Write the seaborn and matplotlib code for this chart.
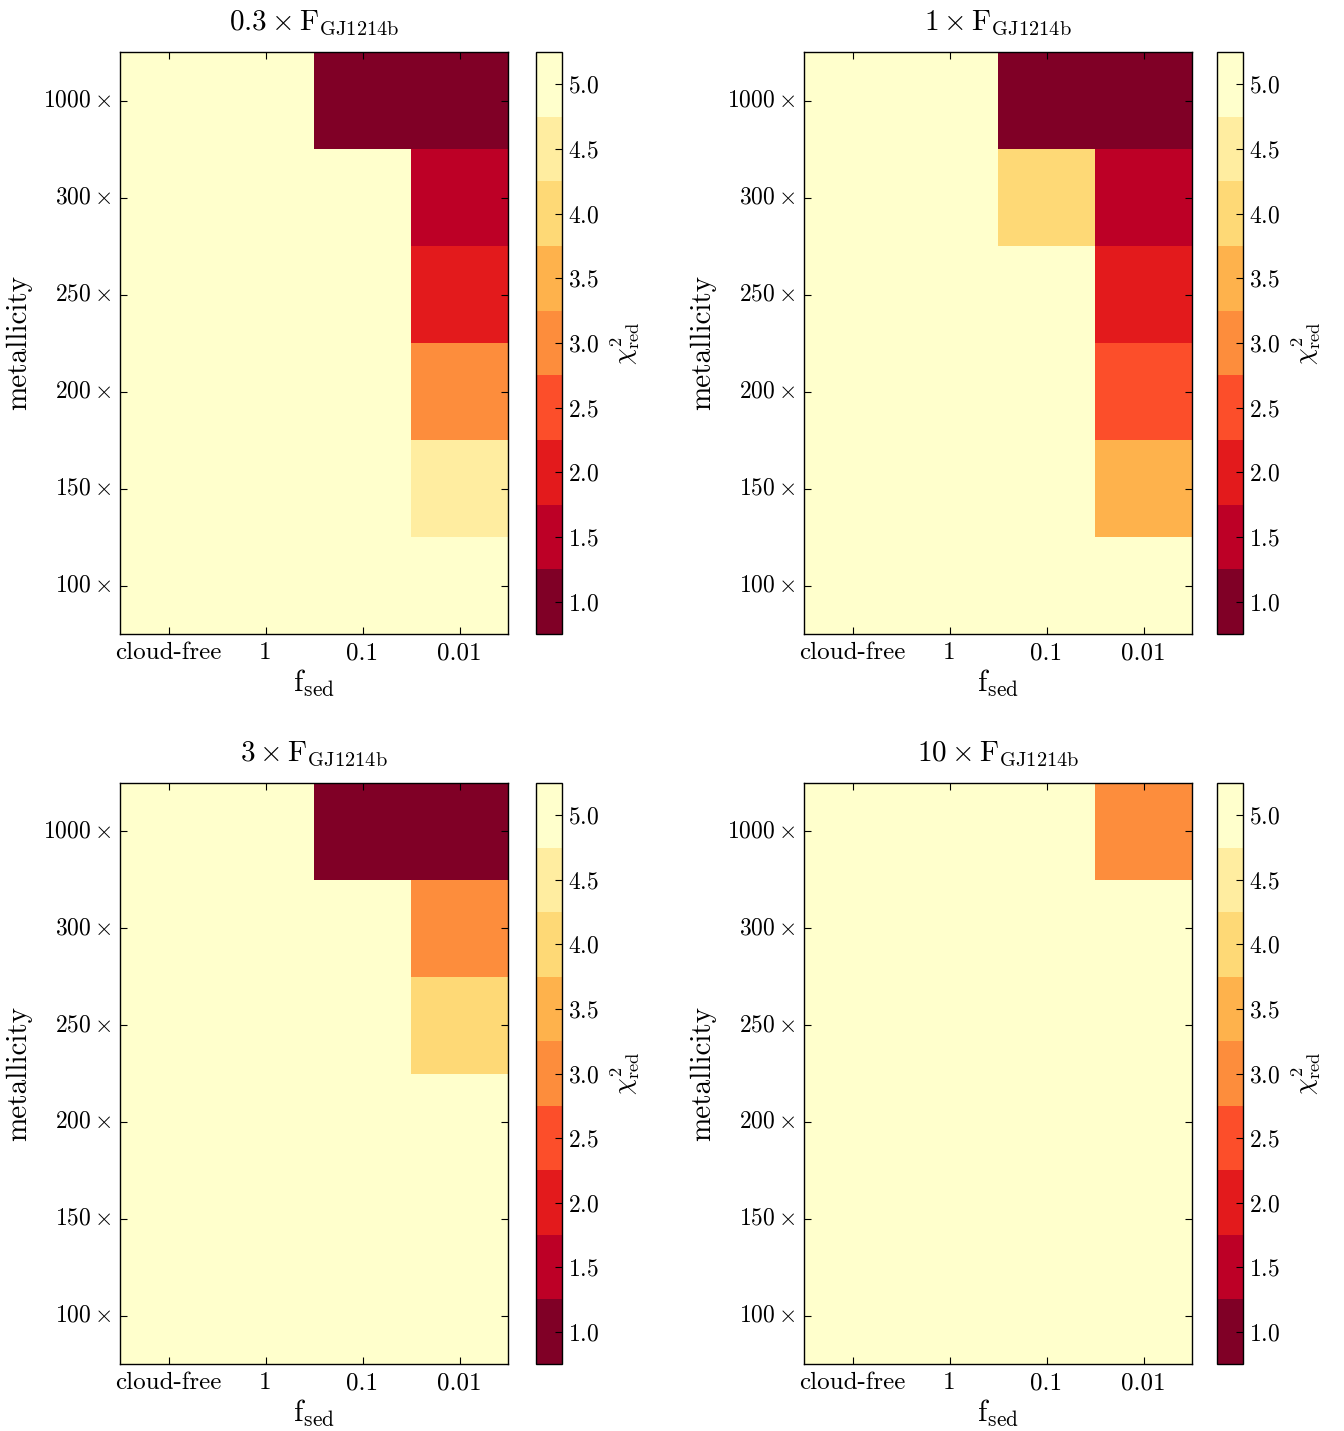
import numpy as np
import pandas as pd
import matplotlib
matplotlib.use("Agg")
import matplotlib.pyplot as plt
import seaborn as sns

plt.rcParams.update({
    "font.family": "serif",
    "font.serif": ["cmr10", "DejaVu Serif"],
    "mathtext.fontset": "cm",
    "axes.formatter.use_mathtext": True,
    "xtick.direction": "in",
    "ytick.direction": "in",
    "xtick.top": True,
    "ytick.right": True,
    "xtick.major.size": 5,
    "ytick.major.size": 5,
    "axes.linewidth": 1.0,
})

# ---- data ----
metallicity = ["1000", "300", "250", "200", "150", "100"]
fsed = ["cloud-free", "1", "0.1", "0.01"]
flux_labels = ["0.3", "1", "3", "10"]

chi_03 = [[5.0, 5.0, 1.0, 1.0],
          [5.0, 5.0, 5.0, 1.5],
          [5.0, 5.0, 5.0, 2.0],
          [5.0, 5.0, 5.0, 3.0],
          [5.0, 5.0, 5.0, 4.5],
          [5.0, 5.0, 5.0, 5.0]]
chi_1 = [[5.0, 5.0, 1.0, 1.0],
         [5.0, 5.0, 4.0, 1.5],
         [5.0, 5.0, 5.0, 2.0],
         [5.0, 5.0, 5.0, 2.5],
         [5.0, 5.0, 5.0, 3.5],
         [5.0, 5.0, 5.0, 5.0]]
chi_3 = [[5.0, 5.0, 1.0, 1.0],
         [5.0, 5.0, 5.0, 3.0],
         [5.0, 5.0, 5.0, 4.0],
         [5.0, 5.0, 5.0, 5.0],
         [5.0, 5.0, 5.0, 5.0],
         [5.0, 5.0, 5.0, 5.0]]
chi_10 = [[5.0, 5.0, 5.0, 3.0],
          [5.0, 5.0, 5.0, 5.0],
          [5.0, 5.0, 5.0, 5.0],
          [5.0, 5.0, 5.0, 5.0],
          [5.0, 5.0, 5.0, 5.0],
          [5.0, 5.0, 5.0, 5.0]]
cbar_ticks = [1.0, 1.5, 2.0, 2.5, 3.0, 3.5, 4.0, 4.5, 5.0]

panels = [chi_03, chi_1, chi_3, chi_10]

cmap = plt.get_cmap("YlOrRd_r", 9)

W, H = 1344, 1431
fig = plt.figure(figsize=(W / 100, H / 100), dpi=100)

def fx(px):
    return px / W

def fy(top, bottom):
    return 1 - bottom / H, (bottom - top) / H

ax_x = [120, 804]
cb_x = [536, 1217]
rows_y = [(52, 634), (783, 1364)]

for i, (vals, fl) in enumerate(zip(panels, flux_labels)):
    r, c = divmod(i, 2)
    b, h = fy(*rows_y[r])
    ax = fig.add_axes([fx(ax_x[c]), b, fx(388), h])
    cax = fig.add_axes([fx(cb_x[c]), b, fx(26), h])
    df = pd.DataFrame(vals, index=metallicity, columns=fsed)
    sns.heatmap(df, ax=ax, cbar_ax=cax, cmap=cmap, vmin=0.75, vmax=5.25,
                linewidths=0)
    for s in ax.spines.values():
        s.set_visible(True)
        s.set_linewidth(1.0)
        s.set_color("black")
    ax.set_yticklabels([r"$%s\times$" % m for m in metallicity], rotation=0,
                       fontsize=17)
    ax.set_xticklabels(fsed, rotation=0, fontsize=18)
    ax.tick_params(axis="both", which="major", direction="in", length=5,
                   top=True, right=True, pad=6)
    ax.set_xlabel(r"$\mathrm{f_{sed}}$", fontsize=22, labelpad=2)
    ax.set_ylabel("metallicity", fontsize=21, labelpad=8)
    ax.set_title(r"$%s\times\mathrm{F_{GJ1214b}}$" % fl, fontsize=21, pad=16)
    cb = ax.collections[0].colorbar
    cb.outline.set_linewidth(1.0)
    cb.outline.set_edgecolor("black")
    cb.set_ticks(cbar_ticks)
    cb.ax.tick_params(labelsize=17, direction="in", length=5, pad=4)
    cb.set_label(r"$\chi^2_{\rm red}$", fontsize=19, labelpad=7)

fig.savefig("out.png", dpi=100)
